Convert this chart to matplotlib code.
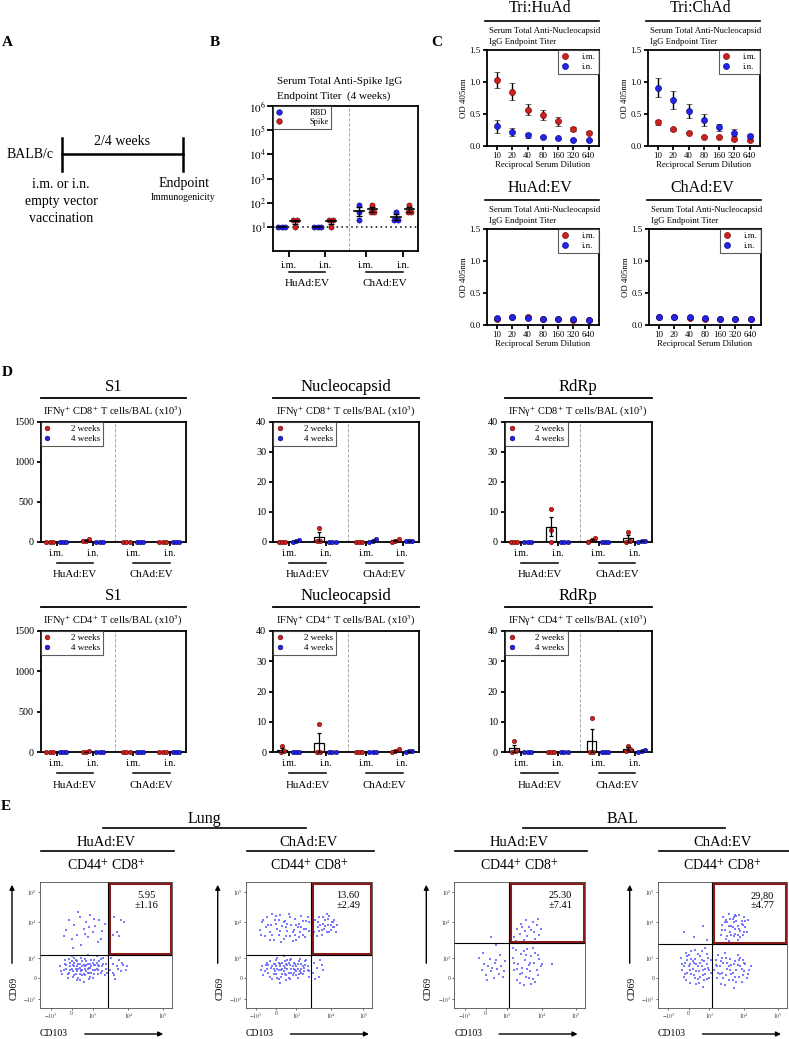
import numpy as np
import matplotlib.pyplot as plt
from matplotlib.lines import Line2D
from matplotlib.patches import Rectangle, FancyArrowPatch

plt.rcParams['font.family'] = ['Liberation Serif', 'DejaVu Serif']
plt.rcParams['mathtext.fontset'] = 'stix'

RED, RED_E = '#cc2020', '#6a0000'
BLUE, BLUE_E = '#2424e8', '#000070'

# ---------------- data ----------------
# B: serum anti-spike IgG endpoint titer (HuAd i.m., HuAd i.n., ChAd i.m., ChAd i.n.)
b_ticklabels = ['i.m.', 'i.n.', 'i.m.', 'i.n.']
b_rbd = [[10, 10, 10], [10, 10, 10], [80, 40, 20], [40, 20, 20]]
b_spike = [[20, 20, 10], [20, 20, 10], [80, 40, 40], [80, 40, 40]]

# C: OD405 vs reciprocal serum dilution
dilutions = ['10', '20', '40', '80', '160', '320', '640']
tri_hu_im = [1.03, 0.85, 0.57, 0.49, 0.39, 0.27, 0.21]
tri_hu_im_err = [0.13, 0.13, 0.09, 0.08, 0.07, 0.03, 0.02]
tri_hu_in = [0.31, 0.22, 0.17, 0.14, 0.12, 0.10, 0.09]
tri_hu_in_err = [0.10, 0.06, 0.04, 0.01, 0.01, 0.01, 0.01]
tri_ch_im = [0.37, 0.26, 0.21, 0.14, 0.14, 0.11, 0.09]
tri_ch_im_err = [0.04, 0.02, 0.01, 0.01, 0.01, 0.01, 0.01]
tri_ch_in = [0.91, 0.72, 0.55, 0.41, 0.29, 0.21, 0.16]
tri_ch_in_err = [0.15, 0.14, 0.11, 0.09, 0.06, 0.05, 0.02]
ev_hu_im = [0.10, 0.12, 0.13, 0.10, 0.09, 0.08, 0.08]
ev_hu_in = [0.11, 0.12, 0.11, 0.10, 0.09, 0.09, 0.08]
ev_ch_im = [0.12, 0.12, 0.11, 0.10, 0.09, 0.09, 0.09]
ev_ch_in = [0.12, 0.12, 0.13, 0.11, 0.10, 0.10, 0.09]

# D: IFNg+ T cells/BAL (x10^3), groups HuAd i.m., HuAd i.n., ChAd i.m., ChAd i.n.
cd8_s1_2wk = [[0, 0, 0], [35, 10, 8], [0, 0, 0], [0, 0, 0]]
cd8_s1_4wk = [[0, 0, 0], [0, 0, 0], [0, 0, 0], [0, 0, 0]]
cd8_np_2wk = [[0, 0, 0], [4.5, 0.3, 0.1], [0, 0, 0], [1.0, 0.3, 0]]
cd8_np_4wk = [[0.5, 0.2, 0], [0, 0, 0], [0.8, 0.1, 0], [0.3, 0.2, 0.1]]
cd8_rd_2wk = [[0, 0, 0], [10.8, 4.0, 0], [1.3, 0.6, 0], [3.4, 0.1, 0]]
cd8_rd_4wk = [[0, 0, 0], [0, 0, 0], [0, 0, 0], [0.4, 0.2, 0]]
cd4_s1_2wk = [[0, 0, 0], [8, 2, 0], [0, 0, 0], [0, 0, 0]]
cd4_s1_4wk = [[0, 0, 0], [0, 0, 0], [0, 0, 0], [0, 0, 0]]
cd4_np_2wk = [[2.0, 0.3, 0], [9.2, 0, 0], [0, 0, 0], [1.0, 0.3, 0]]
cd4_np_4wk = [[0, 0, 0], [0, 0, 0], [0, 0, 0], [0.3, 0.2, 0]]
cd4_rd_2wk = [[3.6, 0.3, 0], [0, 0, 0], [11.2, 0, 0], [2.0, 1.0, 0.3]]
cd4_rd_4wk = [[0, 0, 0], [0, 0, 0], [0, 0, 0], [0.5, 0.3, 0.1]]

# E: flow cytometry events (channel units 0-100), CD103 vs CD69
lung_hu_pts = [(18,30),(20,34),(22,28),(23,36),(24,31),(25,25),(26,33),(27,38),(28,29),(29,35),(30,27),(30,32),
               (31,40),(32,30),(33,34),(34,26),(35,37),(36,31),(37,28),(38,35),(39,33),(40,24),(41,38),(42,30),
               (43,36),(44,27),(45,33),(46,39),(47,29),(48,35),(50,31),(15,33),(17,27),(19,38),(21,24),(24,41),
               (28,22),(33,21),(36,42),(26,36),(31,29),(34,33),(29,31),(23,33),(37,32),(41,34),(44,30),(27,27),
               (32,37),(39,28),(20,31),(25,29),(35,34),(43,41),(49,26),
               (16,29),(19,35),(21,27),(22,39),(23,30),(25,34),(26,26),(27,31),(28,37),(29,24),(30,35),(31,30),
               (32,33),(33,27),(34,39),(35,29),(36,35),(37,23),(38,32),(39,38),(40,30),(41,27),(42,34),(43,31),
               (45,37),(46,28),(47,33),(48,40),(50,35),(51,28),(24,37),(28,33),(32,26),(36,28),(40,36),(44,34),
               (26,40),(30,22),(34,31),(38,25),
               (53,30),(55,35),(56,26),(58,33),(60,38),(61,29),(63,34),(54,40),(57,23),(59,31),(62,36),(65,30),
               (66,33),(55,28),
               (20,62),(22,70),(24,55),(26,66),(28,58),(30,72),(31,50),(33,63),(35,68),(36,56),(38,74),(40,60),
               (42,65),(44,52),(45,70),(47,61),(49,67),(25,48),(37,64),(29,76),(18,57),(41,71),(34,59),(46,55),
               (53,66),(56,72),(58,60),(61,70),(64,68),(55,58),(60,57)]
lung_ch_pts = [(12,30),(14,26),(16,34),(18,28),(19,37),(21,23),(22,31),(23,35),(24,27),(25,40),(26,30),(27,33),
               (28,25),(29,36),(30,29),(31,32),(32,22),(33,38),(34,28),(35,34),(36,31),(37,26),(38,36),(39,30),
               (40,33),(41,24),(42,37),(43,29),(44,35),(45,27),(46,32),(48,38),(49,30),(50,25),(20,32),(26,36),
               (31,27),(36,39),(27,20),(33,31),(38,28),(24,33),(29,31),(34,36),(40,29),(22,27),(17,31),(44,31),
               (47,34),(35,23),(30,41),(25,24),
               (13,33),(15,29),(17,36),(19,25),(21,33),(23,29),(24,38),(26,23),(27,35),(28,30),(30,33),(31,37),
               (32,26),(33,34),(34,24),(35,38),(36,28),(37,33),(39,35),(40,26),(41,31),(42,27),(43,39),(45,33),
               (46,29),(47,37),(49,33),(50,29),(22,35),(29,27),(38,31),(44,28),(18,34),(25,31),(32,35),(41,35),
               (53,28),(54,36),(56,32),(58,25),(59,38),(61,30),(55,23),(60,34),
               (11,62),(13,68),(15,57),(17,72),(19,60),(20,66),(22,54),(23,70),(25,63),(26,58),(27,74),(29,65),
               (30,55),(31,69),(33,61),(34,75),(35,57),(36,66),(38,62),(39,71),(40,54),(42,67),(43,60),(44,73),
               (46,63),(47,56),(48,69),(50,61),(21,75),(28,52),(37,53),(41,64),(24,67),(32,64),(45,58),(16,64),
               (49,72),
               (12,58),(14,70),(18,66),(21,58),(24,73),(27,61),(30,68),(32,57),(35,72),(37,60),(40,66),(42,56),
               (45,69),(48,63),(19,54),(26,70),(33,67),(39,58),(44,64),(50,68),
               (54,60),(55,70),(57,64),(58,72),(60,58),(61,67),(62,63),(63,70),(64,60),(65,66),(66,73),(67,62),
               (68,68),(69,64),(70,70),(71,60),(72,66),(59,66),(64,75),(56,57),
               (57,68),(60,62),(63,65),(65,71),(67,66),(70,64),(61,72),(58,61),(66,60),(69,68)]
bal_hu_pts = [(19,40),(21,30),(23,35),(24,26),(26,33),(27,39),(28,29),(30,24),(31,36),(33,31),(34,27),(35,42),
              (36,33),(38,29),(39,37),(25,22),(29,32),(32,38),(37,25),(22,44),(28,56),(32,50),
              (45,40),(46,30),(47,46),(48,22),(49,35),(50,27),(51,43),(52,32),(53,18),(54,38),(55,25),(56,47),
              (57,34),(58,29),(59,41),(60,23),(61,36),(62,44),(63,30),(64,26),(65,39),(66,33),(45,48),(50,20),
              (55,42),(58,36),(60,48),(62,21),(67,35),(48,31),(53,45),(57,24),(46,36),(52,28),(56,31),(59,19),
              (64,42),(75,35),
              (46,56),(48,63),(50,59),(51,67),(53,54),(54,61),(55,70),(56,57),(57,64),(58,52),(60,68),(61,60),
              (62,55),(63,66),(64,71),(65,58),(52,64),(59,62),(47,53),(66,63)]
bal_ch_pts = [(18,40),(19,30),(20,25),(21,36),(22,44),(23,28),(24,33),(25,20),(26,39),(27,31),(28,26),(29,46),
              (30,35),(31,23),(32,29),(33,41),(34,33),(35,17),(36,37),(37,27),(38,43),(39,32),(40,24),(41,38),
              (20,33),(24,42),(28,36),(32,20),(35,30),(38,35),(26,27),(30,29),(34,45),(22,22),(37,48),(40,30),
              (29,39),(33,25),(25,35),(36,22),(23,38),(31,43),
              (19,35),(21,27),(23,41),(25,30),(27,37),(29,24),(31,33),(33,36),(35,26),(37,31),(39,40),(41,28),
              (26,45),(30,19),(34,38),(38,23),
              (20,60),(28,56),(35,65),(38,54),
              (44,30),(45,38),(46,24),(47,42),(48,33),(49,19),(50,28),(51,36),(52,44),(53,26),(54,31),(55,22),
              (56,39),(57,34),(58,28),(59,16),(60,37),(61,30),(62,42),(63,25),(64,33),(65,21),(66,38),(67,29),
              (68,35),(70,27),(72,33),(46,33),(50,40),(54,36),(58,22),(62,34),(66,26),(56,30),(60,25),(52,18),
              (64,40),(48,27),
              (45,34),(47,28),(49,37),(51,24),(53,40),(55,33),(57,27),(59,35),(61,21),(63,38),(65,31),(67,36),
              (69,24),(71,30),
              (49,58),(50,66),(51,72),(52,62),(53,55),(54,68),(55,75),(56,60),(57,65),(58,71),(59,57),(60,63),
              (61,69),(62,54),(63,74),(64,61),(65,67),(66,58),(67,72),(68,64),(69,60),(70,70),(55,53),(59,68),
              (62,65),(53,70),(57,58),(66,66),(60,74),(64,56),
              (50,62),(52,68),(54,57),(56,71),(58,64),(60,59),(61,73),(63,63),(65,69),(67,60),(55,65),(59,72),
              (62,58),(68,69)]
flow_names = ['HuAd:EV', 'ChAd:EV', 'HuAd:EV', 'ChAd:EV']
flow_pct = ['5.95\n±1.16', '13.60\n±2.49', '25.30\n±7.41', '29,80\n±4.77']
flow_ticklabels = ['$-10^{3}$', '0', '$10^{3}$', '$10^{4}$', '$10^{5}$']

# ---------------- layout helpers (pixel coordinates) ----------------
W, H = 789, 1039
fig = plt.figure(figsize=(W / 100, H / 100), dpi=100)


def axes_px(l, t, r, b):
    return fig.add_axes([l / W, 1 - b / H, (r - l) / W, (b - t) / H])


def ftext(x, y, s, size, **kw):
    kw.setdefault('ha', 'center')
    fig.text(x / W, 1 - y / H, s, fontsize=size, va='center', **kw)


def hline(x1, x2, y, lw=1.0):
    fig.add_artist(Line2D([x1 / W, x2 / W], [1 - y / H] * 2, color='k', lw=lw))


def vline(x, y1, y2, lw=1.0):
    fig.add_artist(Line2D([x / W] * 2, [1 - y1 / H, 1 - y2 / H], color='k', lw=lw))


def arrow(x1, y1, x2, y2):
    fig.add_artist(FancyArrowPatch((x1 / W, 1 - y1 / H), (x2 / W, 1 - y2 / H), transform=fig.transFigure,
                                   arrowstyle='-|>', mutation_scale=7, lw=1, color='k'))


def style_box(ax, lw=1.3):
    for s in ax.spines.values():
        s.set_linewidth(lw)
    ax.tick_params(direction='out', width=lw, colors='k')


def spread(vals, center, step, tol):
    vals = np.asarray(vals, float)
    order = np.argsort(vals)
    xs = np.full(len(vals), float(center))
    groups = [[order[0]]]
    for i in order[1:]:
        if vals[i] - vals[groups[-1][-1]] <= tol:
            groups[-1].append(i)
        else:
            groups.append([i])
    for g in groups:
        for k, i in enumerate(g):
            xs[i] = center + (k - (len(g) - 1) / 2) * step
    return xs


def group_labels(ax, h_px, pairs, names, line_off, text_off, size):
    tr = ax.get_xaxis_transform()
    for (x1, x2), name in zip(pairs, names):
        ax.plot([x1, x2], [-line_off / h_px] * 2, transform=tr, clip_on=False, color='k', lw=1.1)
        ax.text((x1 + x2) / 2, -text_off / h_px, name, transform=tr, ha='center', va='center', fontsize=size)


def dot_handle(fc, ec, ms):
    return Line2D([], [], ls='none', marker='o', ms=ms, mfc=fc, mec=ec, mew=0.4)


def box_legend(ax, labels, colors, loc, size, ms, pad):
    hs = [dot_handle(fc, ec, ms) for fc, ec in colors]
    leg = ax.legend(hs, labels, loc=loc, fontsize=size, frameon=True, fancybox=False, edgecolor='0.2',
                    borderaxespad=0, handlelength=0.8, handletextpad=pad, borderpad=0.35, labelspacing=0.15)
    leg.get_frame().set_linewidth(0.8)


# ---------------- panel letters ----------------
for x, y, s in [(7, 43, 'A'), (215, 43, 'B'), (437, 43, 'C'), (7, 373, 'D'), (6, 807, 'E')]:
    ftext(x, y, s, 11, fontweight='bold')

# ---------------- A: schedule ----------------
hline(62, 183, 154, lw=1.8)
vline(62, 138, 171, lw=1.8)
vline(183, 138, 171, lw=1.8)
ftext(30, 155, 'BALB/c', 10)
ftext(122, 142, '2/4 weeks', 10)
ftext(61, 184, 'i.m. or i.n.', 10)
ftext(61, 201, 'empty vector', 10)
ftext(61, 218, 'vaccination', 10)
ftext(184, 183, 'Endpoint', 10)
ftext(183, 198, 'Immunogenicity', 7)

# ---------------- B ----------------
B_POS = [0, 1, 2.14, 3.17]
axB = axes_px(273, 106, 418, 251)
style_box(axB)
axB.set_yscale('log')
for i, pos in enumerate(B_POS):
    for vals, off, fc, ec in ((b_rbd, -0.2, BLUE, BLUE_E), (b_spike, 0.17, RED, RED_E)):
        v = np.array(vals[i], float)
        c = pos + off
        axB.scatter(spread(np.log10(v), c, 0.09, 0.04), v, s=14, c=fc, edgecolors=ec, lw=0.4, zorder=3)
        m = v.mean()
        se = v.std(ddof=1) / np.sqrt(len(v))
        axB.plot([c - 0.13, c + 0.13], [m, m], color='k', lw=1.2, zorder=4)
        if se > 0:
            axB.errorbar(c, m, yerr=se, fmt='none', ecolor='k', elinewidth=1, capsize=2, zorder=4)
axB.axhline(10, color='k', lw=1.1, ls=(0, (1, 2.2)), zorder=1)
axB.axvline(1.66, color='0.6', lw=0.6, ls=(0, (4, 2)))
axB.set_xlim(-0.44, 3.58)
axB.set_ylim(1, 1e6)
axB.set_yticks([1e1, 1e2, 1e3, 1e4, 1e5, 1e6])
axB.set_yticklabels(['$10^{%d}$' % k for k in range(1, 7)], fontsize=8)
axB.set_xticks(B_POS)
axB.set_xticklabels(b_ticklabels, fontsize=7.5)
axB.tick_params(axis='x', length=4, pad=3)
axB.tick_params(axis='y', which='major', length=4, pad=1)
axB.tick_params(axis='y', which='minor', length=2, width=0.8)
box_legend(axB, ['RBD', 'Spike'], [(BLUE, BLUE_E), (RED, RED_E)], 'upper left', 6, 4, 3.2)
group_labels(axB, 145, [(B_POS[0], B_POS[1]), (B_POS[2], B_POS[3])], ['HuAd:EV', 'ChAd:EV'], 21, 32, 8)
ftext(277, 81, 'Serum Total Anti-Spike IgG', 8, ha='left')
ftext(277, 96, 'Endpoint Titer  (4 weeks)', 8, ha='left')

# ---------------- C ----------------
c_specs = [
    ((487, 50, 599, 146), 'Tri:HuAd', (tri_hu_im, tri_hu_im_err), (tri_hu_in, tri_hu_in_err)),
    ((648, 50, 760, 146), 'Tri:ChAd', (tri_ch_im, tri_ch_im_err), (tri_ch_in, tri_ch_in_err)),
    ((487, 229, 599, 325), 'HuAd:EV', (ev_hu_im, None), (ev_hu_in, None)),
    ((649, 229, 761, 325), 'ChAd:EV', (ev_ch_im, None), (ev_ch_in, None)),
]
for (l, t, r, b), title, (im, im_e), (inn, in_e) in c_specs:
    ax = axes_px(l, t, r, b)
    style_box(ax)
    x = np.arange(len(dilutions))
    for y, e, fc, ec in ((im, im_e, RED, RED_E), (inn, in_e, BLUE, BLUE_E)):
        ax.errorbar(x, y, yerr=e, fmt='o', ms=4.4, mfc=fc, mec=ec, mew=0.4, ecolor='k',
                    elinewidth=1, capsize=2, capthick=1)
    ax.set_xlim(-0.65, 6.67)
    ax.set_ylim(0, 1.5)
    ax.set_yticks([0, 0.5, 1.0, 1.5])
    ax.set_yticklabels(['0.0', '0.5', '1.0', '1.5'], fontsize=6.3)
    ax.set_xticks(x)
    ax.set_xticklabels(dilutions, fontsize=6.3)
    ax.tick_params(length=3, pad=1.5)
    ax.set_xlabel('Reciprocal Serum Dilution', fontsize=6.3, labelpad=0.5)
    ax.set_ylabel('OD 405nm', fontsize=6.3, labelpad=1)
    box_legend(ax, ['i.m.', 'i.n.'], [(RED, RED_E), (BLUE, BLUE_E)], 'upper right', 6.3, 4.4, 1.6)
    cx = (l + r) / 2
    ftext(cx - 3, t - 41.5, title, 11.5)
    hline(l - 2, r, t - 29.5, lw=1.2)
    ftext(l + 2, t - 19, 'Serum Total Anti-Nucleocapsid', 6.3, ha='left')
    ftext(l + 2, t - 8, 'IgG Endpoint Titer', 6.3, ha='left')

# ---------------- D ----------------
D_POS = [0, 0.98, 2.06, 3.03]
d_cols = [(40.7, 186, 'S1', 1500, [0, 500, 1000, 1500]),
          (273.3, 419, 'Nucleocapsid', 40, [0, 10, 20, 30, 40]),
          (505, 651.7, 'RdRp', 40, [0, 10, 20, 30, 40])]
d_rows = [((421.7, 541.7), 'CD8', [(cd8_s1_2wk, cd8_s1_4wk), (cd8_np_2wk, cd8_np_4wk), (cd8_rd_2wk, cd8_rd_4wk)]),
          ((631, 752), 'CD4', [(cd4_s1_2wk, cd4_s1_4wk), (cd4_np_2wk, cd4_np_4wk), (cd4_rd_2wk, cd4_rd_4wk)])]
for (t, b), cd, data in d_rows:
    for (l, r, title, ymax, yt), (wk2, wk4) in zip(d_cols, data):
        ax = axes_px(l, t, r, b)
        style_box(ax)
        for i, pos in enumerate(D_POS):
            for vals, off, fc, ec in ((wk2, -0.19, RED, RED_E), (wk4, 0.17, BLUE, BLUE_E)):
                v = np.array(vals[i], float)
                c = pos + off
                m = v.mean()
                se = v.std(ddof=1) / np.sqrt(len(v))
                ax.bar(c, m, width=0.26, facecolor='white', edgecolor='k', lw=0.9, zorder=2)
                ax.scatter(spread(v, c, 0.085, ymax * 0.02), v, s=10, c=fc, edgecolors=ec, lw=0.4,
                           zorder=3, clip_on=False)
                if se > 0:
                    ax.errorbar(c, m, yerr=se, fmt='none', ecolor='k', elinewidth=0.9, capsize=1.6,
                                capthick=0.9, zorder=4)
        ax.axvline(1.57, color='0.6', lw=0.6, ls=(0, (4, 2)))
        ax.set_xlim(-0.43, 3.47)
        ax.set_ylim(0, ymax)
        ax.set_yticks(yt)
        ax.set_yticklabels([str(v) for v in yt], fontsize=7.3)
        ax.set_xticks(D_POS)
        ax.set_xticklabels(['i.m.', 'i.n.', 'i.m.', 'i.n.'], fontsize=7)
        ax.tick_params(length=3, pad=2)
        box_legend(ax, ['2 weeks', '4 weeks'], [(RED, RED_E), (BLUE, BLUE_E)], 'upper left', 6.5, 3.4, 2.2)
        group_labels(ax, b - t, [(D_POS[0], D_POS[1]), (D_POS[2], D_POS[3])], ['HuAd:EV', 'ChAd:EV'], 21, 33, 7.8)
        cx = (l + r) / 2
        ftext(cx, t - 35, title, 12)
        hline(l, r, t - 24, lw=1.3)
        ftext(cx, t - 10, 'IFNγ$^{+}$ %s$^{+}$ T cells/BAL (x10$^{3}$)' % cd, 7.5)

# ---------------- E ----------------
FLOW_XT = [8, 24, 40, 67, 93]
FLOW_YT = [7, 24, 40, 68, 92]
e_boxes = [(40, 882, 172, 1008), (245.7, 882, 372.3, 1008), (454.3, 882, 585, 1008), (657.7, 882, 786.7, 1008)]
e_gates = [(51.5, 42), (51.3, 42), (41.9, 51.2), (42.3, 51)]
e_points = [lung_hu_pts, lung_ch_pts, bal_hu_pts, bal_ch_pts]
for (l, t, r, b), (gx, gy), pts, name, pct in zip(e_boxes, e_gates, e_points, flow_names, flow_pct):
    ax = axes_px(l, t, r, b)
    for s in ax.spines.values():
        s.set_linewidth(0.6)
        s.set_color('0.3')
    p = np.array(pts, float)
    ax.scatter(p[:, 0], p[:, 1], s=1.1, marker='s', c='#5a5aff', lw=0, alpha=0.8)
    ax.axvline(gx, color='k', lw=0.8)
    ax.axhline(gy, color='k', lw=0.8)
    ax.add_patch(Rectangle((gx + 0.9, gy + 0.9), 98.2 - gx, 98.2 - gy, fill=False, ec='#8b1a1a', lw=2.2))
    ax.text(81, 85, pct, ha='center', va='center', fontsize=7.5, linespacing=1.15)
    ax.set_xlim(0, 100)
    ax.set_ylim(0, 100)
    ax.set_xticks(FLOW_XT)
    ax.set_xticklabels(flow_ticklabels, fontsize=4)
    ax.set_yticks(FLOW_YT)
    ax.set_yticklabels(flow_ticklabels, fontsize=4)
    ax.tick_params(length=1.5, width=0.5, pad=1, colors='0.2')
    ftext(l - 26, 988, 'CD69', 7, rotation=90)
    arrow(l - 28, 966, l - 28, 882)
    ftext(l + 14, 1033, 'CD103', 7)
    arrow(l + 42, 1034, l + 126, 1034)
    ftext((l + r) / 2, 866, 'CD44$^{+}$ CD8$^{+}$', 10)
    ftext((l + r) / 2, 842, name, 10.5)
    hline(l + 1, r + 2, 851, lw=1.2)

ftext(204, 819, 'Lung', 11.5)
hline(103, 306, 828, lw=1.2)
ftext(623, 819, 'BAL', 11.5)
hline(523, 725, 828, lw=1.2)

fig.savefig('out.png', dpi=100)
